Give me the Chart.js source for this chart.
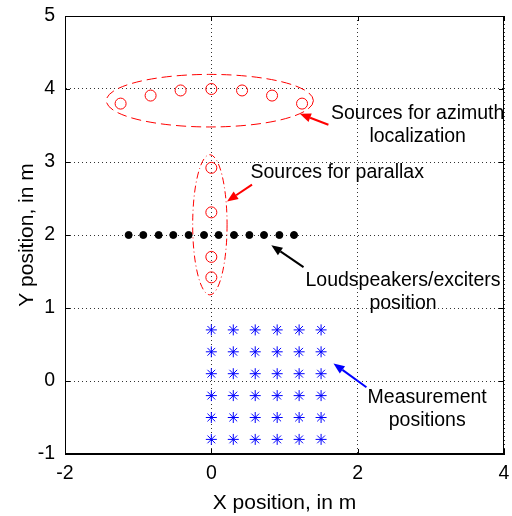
<!DOCTYPE html>
<html>
<head>
<meta charset="utf-8">
<script src="https://cdn.jsdelivr.net/npm/chart.js@4/dist/chart.umd.min.js"></script>
<style>
  body { margin: 0; background: #fff; }
</style>
</head>
<body>
<canvas id="myChart" width="512" height="516"></canvas>
<script>
// source positions (m)
let azimuthX = [-1.24, -0.83, -0.42, 0, 0.42, 0.83, 1.24]
let azimuthY = [3.80, 3.91, 3.98, 4.00, 3.98, 3.91, 3.80]
let parallaxX = [0, 0, 0, 0]
let parallaxY = [2.92, 2.31, 1.70, 1.42]
let speakerX = [-1.13, -0.93, -0.72, -0.52, -0.31, -0.10, 0.10, 0.31, 0.52, 0.72, 0.93, 1.13]
let speakerY = 2
let measX = [0, 0.3, 0.6, 0.9, 1.2, 1.5]
let measY = [0.7, 0.4, 0.1, -0.2, -0.5, -0.8]
let xTicks = [-2, 0, 2, 4]
let yTicks = [-1, 0, 1, 2, 3, 4, 5]

// annotations, in data units
let ellipses = [
    { cx: -0.02, cy: 3.84, rx: 1.415, ry: 0.36, dash: [10, 5] },
    { cx: -0.02, cy: 2.14, rx: 0.235, ry: 0.96, dash: [7, 3, 1, 3] },
]
let notes = [
    { lines: ['Sources for azimuth', 'localization'], x: 2.82, y: 3.66, from: [1.60, 3.51], to: [1.21, 3.66], color: '#ff0000' },
    { lines: ['Sources for parallax'], x: 1.72, y: 2.85, from: [0.556, 2.69], to: [0.214, 2.46], color: '#ff0000' },
    { lines: ['Loudspeakers/exciters', 'position'], x: 2.62, y: 1.38, from: [1.26, 1.56], to: [0.82, 1.86], color: '#000000' },
    { lines: ['Measurement', 'positions'], x: 2.95, y: -0.23, from: [2.12, -0.086], to: [1.67, 0.24], color: '#0000ff' },
]

let font = 'Liberation Sans, Arial, sans-serif'

let xy = (xs, ys) => xs.map((v, i) => ({ x: v, y: Array.isArray(ys) ? ys[i] : ys }))
let measPoints = []
measY.forEach(yv => measX.forEach(xv => measPoints.push({ x: xv, y: yv })))

function arrow(ctx, x0, y0, x1, y1, color) {
    let ang = Math.atan2(y1 - y0, x1 - x0)
    let len = 11, w = 4.5
    let bx = x1 - len * Math.cos(ang), by = y1 - len * Math.sin(ang)
    ctx.strokeStyle = color
    ctx.fillStyle = color
    ctx.lineWidth = 2
    ctx.setLineDash([])
    ctx.beginPath()
    ctx.moveTo(x0, y0)
    ctx.lineTo(bx, by)
    ctx.stroke()
    ctx.beginPath()
    ctx.moveTo(x1, y1)
    ctx.lineTo(bx + w * Math.sin(ang), by - w * Math.cos(ang))
    ctx.lineTo(bx - w * Math.sin(ang), by + w * Math.cos(ang))
    ctx.closePath()
    ctx.fill()
}

let extras = {
    id: 'extras',
    afterDatasetsDraw(chart) {
        let { ctx, chartArea: a, scales: { x, y } } = chart
        ctx.save()
        ctx.beginPath()
        ctx.rect(a.left, a.top, a.right - a.left, a.bottom - a.top)
        ctx.clip()

        // ellipses
        ctx.strokeStyle = '#ff0000'
        ctx.lineWidth = 1
        ellipses.forEach(e => {
            let px = x.getPixelForValue(e.cx), py = y.getPixelForValue(e.cy)
            let rx = Math.abs(x.getPixelForValue(e.cx + e.rx) - px)
            let ry = Math.abs(y.getPixelForValue(e.cy + e.ry) - py)
            ctx.setLineDash(e.dash)
            ctx.beginPath()
            ctx.ellipse(px, py, rx, ry, 0, 0, Math.PI * 2)
            ctx.stroke()
        })

        // arrows + labels
        notes.forEach(n => {
            arrow(ctx, x.getPixelForValue(n.from[0]), y.getPixelForValue(n.from[1]),
                x.getPixelForValue(n.to[0]), y.getPixelForValue(n.to[1]), n.color)
            ctx.fillStyle = '#000'
            ctx.font = '19.5px ' + font
            ctx.textAlign = 'center'
            ctx.textBaseline = 'middle'
            let tx = x.getPixelForValue(n.x), ty = y.getPixelForValue(n.y)
            n.lines.forEach((t, i) => ctx.fillText(t, tx, ty + i * 23))
        })
        ctx.restore()

        // box + inward ticks
        ctx.save()
        ctx.strokeStyle = '#000'
        ctx.lineWidth = 1
        ctx.setLineDash([])
        ctx.strokeRect(a.left + 0.5, a.top + 0.5, a.right - a.left - 1, a.bottom - a.top - 1)
        ctx.beginPath()
        xTicks.forEach(v => {
            let p = Math.round(x.getPixelForValue(v)) + 0.5
            ctx.moveTo(p, a.bottom); ctx.lineTo(p, a.bottom - 5)
            ctx.moveTo(p, a.top); ctx.lineTo(p, a.top + 5)
        })
        yTicks.forEach(v => {
            let p = Math.round(y.getPixelForValue(v)) + 0.5
            ctx.moveTo(a.left, p); ctx.lineTo(a.left + 5, p)
            ctx.moveTo(a.right, p); ctx.lineTo(a.right - 5, p)
        })
        ctx.stroke()
        ctx.restore()
    }
}

// keep the plot box fixed: no extra padding from the tick labels
function fixScale(s, size) {
    if (s.isHorizontal()) s.height = size
    else s.width = size
    s.paddingTop = 0
    s.paddingBottom = 0
    s.paddingLeft = 0
    s.paddingRight = 0
}

let chartCtx = document.getElementById('myChart').getContext('2d')

let myChart = new Chart(chartCtx, {
    type: 'scatter',
    data: {
        datasets: [
            {
                data: xy(azimuthX, azimuthY),
                pointStyle: 'circle',
                pointRadius: 5.5,
                borderColor: '#ff0000',
                backgroundColor: 'rgba(0,0,0,0)',
                borderWidth: 1,
            },
            {
                data: xy(parallaxX, parallaxY),
                pointStyle: 'circle',
                pointRadius: 5.5,
                borderColor: '#ff0000',
                backgroundColor: 'rgba(0,0,0,0)',
                borderWidth: 1,
            },
            {
                data: xy(speakerX, speakerY),
                pointStyle: 'circle',
                pointRadius: 3.5,
                borderColor: '#000',
                backgroundColor: '#000',
                borderWidth: 1,
            },
            {
                data: measPoints,
                pointStyle: 'star',
                pointRadius: 5.5,
                borderColor: '#0000ff',
                backgroundColor: '#0000ff',
                borderWidth: 1,
            },
        ],
    },
    options: {
        responsive: false,
        animation: false,
        devicePixelRatio: 1,
        layout: { padding: { top: 16, right: 8, left: 0, bottom: 0 } },
        plugins: { legend: { display: false }, tooltip: { enabled: false } },
        scales: {
            x: {
                type: 'linear',
                min: -2,
                max: 4,
                afterFit: s => fixScale(s, 62),
                afterBuildTicks: s => { s.ticks = xTicks.map(v => ({ value: v })) },
                ticks: { color: '#000', padding: 8, font: { size: 19.5, family: font } },
                grid: { color: '#333', drawTicks: false },
                border: { display: true, color: '#000', dash: [1, 3] },
                title: { display: true, text: 'X position, in m', color: '#000', padding: { top: 0, bottom: 0 }, font: { size: 21, family: font } },
            },
            y: {
                type: 'linear',
                min: -1,
                max: 5,
                afterFit: s => fixScale(s, 65),
                afterBuildTicks: s => { s.ticks = yTicks.map(v => ({ value: v })) },
                ticks: { color: '#000', padding: 10, font: { size: 19.5, family: font } },
                grid: { color: '#333', drawTicks: false },
                border: { display: true, color: '#000', dash: [1, 3] },
                title: { display: true, text: 'Y position, in m', color: '#000', padding: { top: 15, bottom: 0 }, font: { size: 21, family: font } },
            },
        },
    },
    plugins: [extras],
})
</script>
</body>
</html>
